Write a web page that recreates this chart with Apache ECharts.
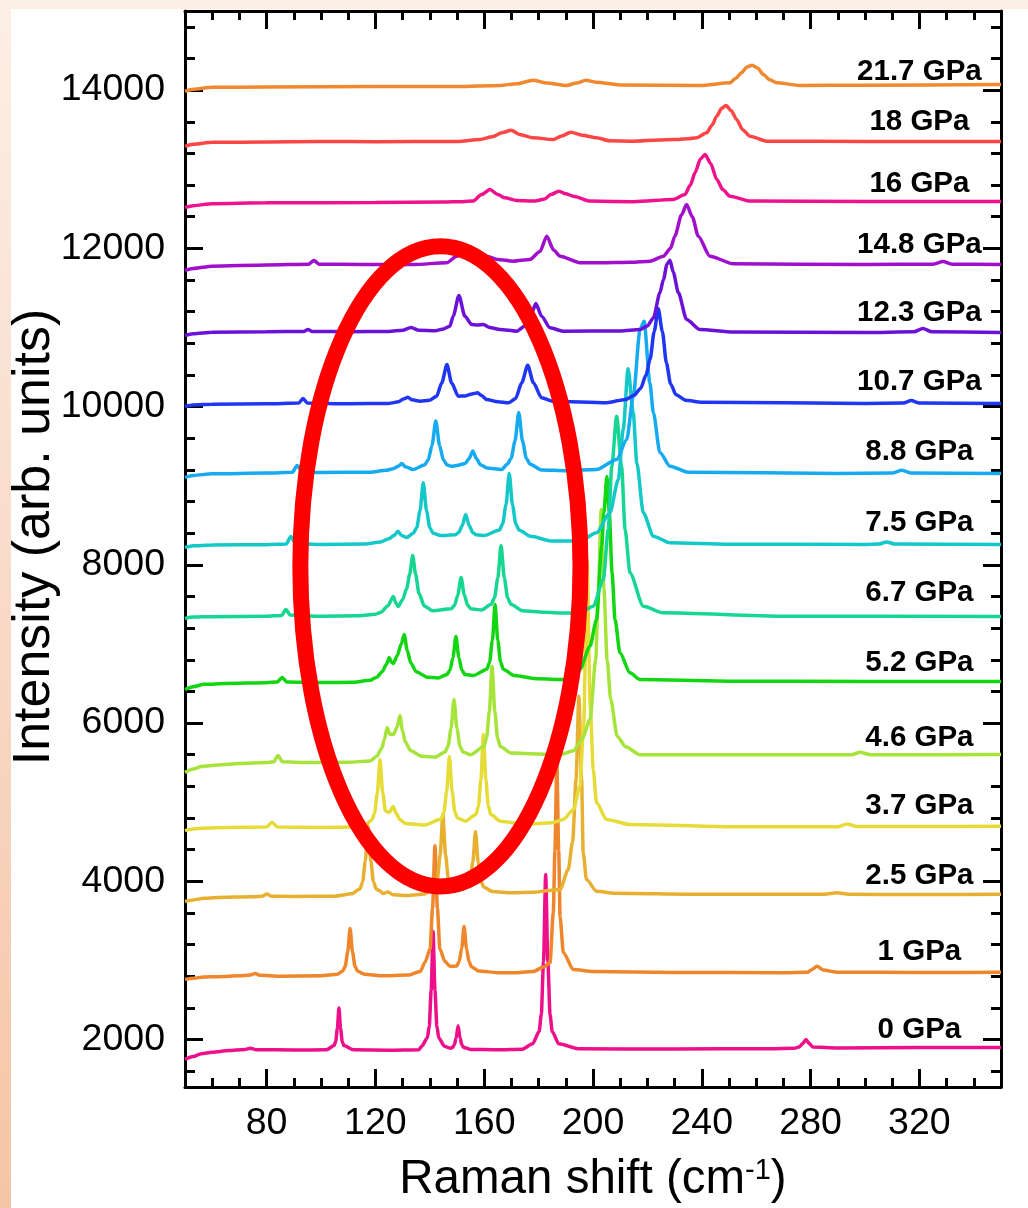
<!DOCTYPE html>
<html><head><meta charset="utf-8">
<script src="https://cdn.jsdelivr.net/npm/echarts@6/dist/echarts.min.js"></script>
<style>
html,body{margin:0;padding:0;width:1028px;height:1208px;overflow:hidden;}
body{background:linear-gradient(180deg,#fcefe6 0%,#f9dccb 45%,#f5c5a5 100%);}
#panel{position:absolute;left:11px;top:9px;right:0;bottom:0;background:#fff;}
#chart{position:absolute;left:0;top:0;width:1028px;height:1208px;}
</style></head><body><div id="panel"></div><div id="chart"></div>
<script>
// ---------- data ----------
const pressures = ["0 GPa","1 GPa","2.5 GPa","3.7 GPa","4.6 GPa","5.2 GPa","6.7 GPa","7.5 GPa","8.8 GPa","10.7 GPa","12.3 GPa","14.8 GPa","16 GPa","18 GPa","21.7 GPa"];
const xMajorTicks = [80,120,160,200,240,280,320];
const xMinorTicks = [60,70,90,100,110,130,140,150,170,180,190,210,220,230,250,260,270,290,300,310,330,340];
const yMajorTicks = [2000,4000,6000,8000,10000,12000,14000];
const yMinorTicks = [1600,2400,2800,3200,3600,4400,4800,5200,5600,6400,6800,7200,7600,8400,8800,9200,9600,10400,10800,11200,11600,12400,12800,13200,13600,14400,14800];

const s0 = [[50,1750],[53,1785],[56,1820],[60,1840],[66,1860],[72,1875],[74,1890],[76,1872],[90,1868],[102,1870],[104.8,1923],[105.4,1976],[106.0,2135],[106.6,2400],[107.2,2135],[107.8,1976],[108.4,1923],[112,1870],[125,1866],[136,1872],[137.0,1915],[139.1,2020],[139.8,2170],[140.5,2618],[141.2,3365],[141.9,2618],[142.6,2170],[143.3,2020],[145.4,1915],[147.5,1890],[148.3,1900],[149.0,1930],[149.7,2022],[150.4,2175],[151.1,2022],[151.8,1930],[152.5,1900],[155,1875],[165,1870],[174,1878],[177.8,1946],[180.2,2101],[181.0,2321],[181.8,2983],[182.6,4086],[183.4,2983],[184.2,2321],[185.0,2101],[187.4,1946],[195,1882],[230,1880],[265,1885],[274,1890],[275.8,1905],[277.1,1950],[278.3,2000],[279.5,1950],[280.8,1905],[290,1893],[320,1898],[350,1900]];
const s1 = [[50,2760],[53,2775],[57,2790],[62,2795],[70,2805],[74,2815],[75.7,2835],[77.5,2812],[85,2800],[100,2805],[106.0,2825],[108.0,2865],[108.9,2925],[109.8,3104],[110.7,3403],[111.6,3104],[112.5,2925],[113.4,2865],[116,2825],[122,2805],[132,2815],[136.5,2860],[138.3,2980],[140.1,3148],[141.0,3655],[141.9,4450],[142.8,3655],[143.7,3148],[145.5,2990],[147.4,2925],[149.9,2930],[150.8,2985],[151.7,3150],[152.6,3428],[153.5,3150],[154.4,2985],[155.3,2920],[158,2865],[165,2845],[172,2845],[178,2860],[182.0,2920],[184.2,2970],[185.4,3600],[186.0,4380],[186.7,5500],[187.4,4380],[187.9,3550],[189.1,3096],[192.8,2885],[200,2860],[230,2848],[270,2845],[279,2850],[280.2,2880],[282.4,2925],[284.6,2880],[290,2850],[320,2848],[350,2850]];
const s2 = [[50,3745],[53,3765],[57,3785],[62,3795],[75,3805],[78.5,3812],[80.1,3840],[81.7,3812],[90,3808],[105,3812],[111.3,3842],[114.3,3904],[115.3,3992],[116.3,4258],[117.3,4700],[118.3,4258],[119.3,3992],[120.3,3904],[121.5,3880],[123.0,3845],[124.6,3865],[126.5,3830],[132,3820],[138,3840],[141.8,3931],[142.8,4033],[143.8,4337],[144.8,4844],[145.8,4337],[146.8,4033],[147.8,3931],[150,3880],[153.8,3928],[154.8,4006],[155.8,4240],[156.8,4629],[157.8,4240],[158.8,4006],[159.8,3928],[163,3870],[170,3855],[178,3860],[184,3885],[187.9,3896],[190.9,4149],[192.5,4500],[193.8,5300],[194.8,6340],[195.8,5300],[196.4,4360],[197.6,4022],[201.3,3875],[208,3850],[240,3835],[285,3835],[289.7,3855],[294,3835],[320,3833],[350,3835]];
const s3 = [[50,4640],[53,4660],[57,4672],[65,4680],[80,4685],[82,4745],[84,4685],[100,4680],[112,4685],[116,4700],[118.7,4775],[119.7,4860],[120.7,5115],[121.7,5539],[122.7,5115],[123.7,4890],[125.1,4870],[126.5,4945],[127.6,4860],[129,4780],[131,4730],[138,4710],[144.2,4788],[145.2,4875],[146.2,5139],[147.2,5577],[148.2,5139],[149.2,4875],[150.2,4800],[153,4760],[157.0,4843],[157.9,4955],[158.8,5293],[159.7,5855],[160.6,5293],[161.5,4955],[162.4,4843],[166,4760],[175,4720],[185,4740],[189.1,4781],[192.8,4907],[195.2,5202],[196.6,6000],[197.8,8068],[199.0,6200],[200.1,5413],[201.3,4992],[205.0,4781],[213.6,4718],[250,4690],[290,4690],[293.4,4725],[297,4692],[320,4692],[350,4695]];
const s4 = [[50,5375],[53,5420],[56,5450],[62,5470],[70,5490],[80,5500],[82.6,5510],[84.2,5590],[85.8,5510],[95,5500],[110,5505],[118,5520],[120.5,5580],[122.3,5680],[123.3,5790],[124.3,5944],[125.3,5860],[126.6,5855],[128.0,5950],[129.0,6095],[130.0,5900],[131,5760],[133,5650],[137,5580],[142,5570],[145.6,5634],[146.7,5708],[147.8,5929],[148.9,6298],[150.0,5929],[151.1,5708],[152.2,5634],[155,5600],[159.9,5703],[160.9,5815],[161.9,6153],[162.9,6715],[163.9,6153],[164.9,5815],[165.9,5703],[170,5620],[180,5610],[188,5600],[192.8,5650],[196,5800],[198.9,6045],[201.0,6800],[202.0,7700],[203.0,8699],[204.0,7700],[205.2,6800],[206.5,6300],[208.9,5834],[212,5700],[217.3,5600],[250,5600],[295,5600],[298.2,5630],[302,5600],[350,5602]];
const s5 = [[50,6424],[53,6460],[57,6490],[65,6500],[80,6510],[84,6520],[85.7,6576],[87.4,6520],[100,6513],[112,6515],[118,6540],[120.5,6580],[122.5,6650],[124.0,6740],[125.1,6829],[125.9,6770],[126.6,6753],[128.0,6850],[129.5,7000],[130.6,7119],[131.7,6920],[133,6760],[135,6650],[139,6580],[143,6570],[146.3,6613],[147.4,6667],[148.5,6827],[149.6,7094],[150.7,6827],[151.8,6667],[152.9,6613],[156,6600],[161.0,6681],[162.0,6772],[163.0,7044],[164.0,7498],[165.0,7044],[166.0,6772],[167.0,6681],[171,6600],[180,6560],[189.1,6550],[195.2,6677],[198.9,6972],[201.3,7309],[203.2,8236],[204.0,8657],[205.1,9116],[206.0,8657],[207.0,7900],[208.1,7309],[209.9,6888],[213.6,6635],[217.3,6550],[250,6530],[300,6525],[350,6525]];
const s6 = [[50,7322],[53,7340],[60,7345],[80,7350],[85.5,7360],[87.1,7435],[88.7,7365],[100,7350],[114,7355],[120,7375],[122,7400],[124.5,7480],[126.6,7600],[127.6,7510],[128.4,7473],[130,7560],[131.5,7700],[132.6,7880],[133.7,8118],[134.8,7880],[136,7640],[138,7480],[141,7420],[147.9,7444],[149.1,7488],[150.3,7620],[151.5,7840],[152.7,7620],[153.9,7488],[155.1,7444],[159,7430],[162.6,7502],[163.8,7585],[165.0,7832],[166.2,8244],[167.4,7832],[168.6,7585],[169.8,7502],[174,7420],[182,7400],[190,7390],[195.2,7393],[200.1,7477],[203.8,7814],[205.6,8446],[206.9,9247],[208.7,9879],[210.5,9247],[211.8,8446],[213.6,7898],[218.5,7477],[225.9,7393],[270,7350],[350,7347]];
const s7 = [[50,8219],[53,8240],[60,8250],[80,8255],[87.2,8262],[88.9,8358],[90.6,8270],[100,8257],[116,8262],[122,8290],[125,8330],[126.8,8370],[128.3,8424],[129.6,8370],[131.5,8345],[133.9,8400],[135.2,8470],[136.4,8685],[137.6,9037],[138.8,8685],[140.0,8470],[141.2,8400],[144,8370],[149.3,8379],[150.6,8407],[151.9,8493],[153.2,8636],[154.5,8493],[155.8,8407],[157.1,8379],[160,8370],[165.6,8440],[166.8,8520],[168.0,8757],[169.2,9154],[170.4,8757],[171.6,8520],[172.8,8440],[177,8360],[185,8300],[195.2,8300],[201.3,8404],[206.2,8657],[209.3,9078],[211.1,9710],[212.9,10478],[214.8,9921],[216.1,9289],[218.5,8657],[222.2,8362],[228.3,8278],[250,8260],[300,8257],[305,8262],[308,8290],[311,8262],[350,8257]];
const s8 = [[50,9104],[53,9130],[60,9150],[80,9160],[89.5,9170],[91.2,9255],[93,9175],[100,9167],[118,9170],[124,9195],[126.5,9215],[128.4,9245],[129.7,9281],[131.0,9240],[133.9,9205],[138.0,9262],[139.4,9324],[140.8,9509],[142.2,9818],[143.6,9509],[145.0,9324],[146.4,9262],[148,9245],[149.9,9255],[153.0,9280],[154.4,9340],[155.8,9440],[157.2,9340],[158.6,9265],[161,9225],[166.4,9205],[168.5,9272],[169.9,9345],[171.3,9562],[172.7,9925],[174.1,9562],[175.5,9345],[176.9,9272],[181,9200],[190,9190],[201.3,9205],[208.7,9331],[212.4,9584],[214.8,10132],[217.3,10974],[218.8,11080],[220.9,10300],[222.2,9921],[224.6,9419],[228.3,9247],[235,9170],[290,9155],[310,9160],[313.6,9195],[317,9160],[350,9154]];
const s9 = [[50,10001],[53,10020],[60,10030],[80,10036],[91.8,10045],[93.4,10102],[95,10045],[110,10035],[125,10040],[128.5,10060],[130.3,10095],[131.9,10118],[133.5,10085],[136.4,10068],[140,10080],[142.5,10131],[144.4,10300],[146.3,10532],[148.0,10300],[150.5,10131],[153,10135],[155.5,10160],[157.6,10174],[159,10140],[160.9,10090],[165,10060],[168.9,10047],[171.5,10100],[173.8,10300],[176.0,10523],[178.1,10300],[181.1,10111],[185.4,10068],[205,10050],[212,10090],[215,10140],[217.5,10230],[219.5,10400],[221.0,10600],[222.5,10950],[224.0,11236],[225.5,10950],[227.0,10550],[228.5,10290],[230.5,10150],[234,10080],[240,10055],[300,10040],[314,10045],[317,10077],[320,10045],[350,10039]];
const s10 = [[50,10898],[53,10920],[60,10940],[80,10945],[93.6,10950],[95.2,10974],[96.8,10950],[110,10945],[125,10950],[130,10965],[133.1,11000],[136,10965],[142,10960],[145,10980],[147.4,11017],[148.6,11143],[150.7,11404],[152.9,11143],[155.4,11038],[157.5,11030],[159.7,11038],[162,11000],[165.8,10974],[171.9,10953],[175,11020],[177.5,11186],[179.0,11303],[181.1,11143],[184.2,10996],[189.1,10953],[210,10955],[217.3,10974],[220,11020],[222.2,11120],[224.6,11438],[225.9,11606],[227.2,11800],[228.3,11851],[229.5,11700],[231.4,11438],[234.4,11101],[239.3,10974],[251.6,10943],[300,10937],[318,10945],[321.3,10987],[324.5,10945],[350,10937]];
const s11 = [[50,11720],[53,11745],[60,11775],[80,11790],[95.5,11800],[97.4,11847],[99.3,11800],[115,11795],[134,11796],[146.2,11818],[149.9,11901],[154.8,12006],[160.9,11901],[165,11860],[170.7,11838],[176.8,11859],[180.5,11960],[183.0,12154],[185.5,11980],[187.9,11901],[195.2,11818],[202.6,11818],[214,11825],[221.0,11838],[225.9,11901],[228.5,12000],[230.1,12154],[232.5,12420],[234.4,12554],[236.5,12400],[238.7,12154],[243,11901],[251.6,11805],[300,11796],[325,11800],[328.7,11834],[332,11800],[350,11796]];
const s12 = [[50,12517],[53,12540],[60,12565],[80,12575],[120,12580],[145,12585],[152,12590],[156.0,12600],[159,12680],[162.1,12744],[165,12680],[167.6,12639],[172,12605],[178.1,12597],[182,12620],[184.5,12680],[187.5,12723],[190,12690],[192.8,12659],[198.9,12597],[215,12590],[229.5,12618],[233.8,12681],[235.8,12800],[237.5,12955],[239.5,13130],[241.2,13186],[243.3,13070],[245.5,12870],[247.8,12740],[250.4,12659],[257.7,12597],[300,12593],[350,12593]];
const s13 = [[50,13288],[53,13315],[60,13340],[80,13345],[100,13350],[120,13348],[150,13352],[158.5,13376],[163,13410],[166.5,13460],[169.9,13494],[173,13440],[178.0,13398],[185.4,13376],[188.5,13420],[191.8,13468],[196,13430],[201.3,13397],[206,13360],[215,13355],[229.5,13376],[235,13385],[238.1,13398],[241.8,13461],[243.8,13560],[245.5,13671],[247.3,13770],[248.9,13806],[250.8,13740],[252.8,13629],[255,13500],[257.7,13418],[263.9,13355],[300,13351],[350,13351]];
const s14 = [[50,13983],[53,14010],[60,14035],[80,14040],[120,14045],[150,14046],[165.8,14059],[172,14080],[178.0,14126],[183,14090],[190.3,14059],[194,14090],[197.4,14126],[201,14100],[210,14065],[239.3,14058],[250.4,14093],[252.5,14150],[254.6,14219],[256.5,14290],[258.5,14315],[260.5,14280],[262.6,14198],[265,14130],[267.5,14093],[276.1,14058],[300,14062],[350,14071]];
const spectra = [s0,s1,s2,s3,s4,s5,s6,s7,s8,s9,s10,s11,s12,s13,s14];

// ---------- styling / layout ----------
const colors = ["#ee108a","#f0862c","#e8b030","#e6dc38","#a6e43c","#12d612","#16d692","#14c8c8","#16aaf0","#2036f2","#6c12d8","#a010cc","#f0128c","#ff4646","#f08830"];
const labelLift = [18,20,18,20,17,19,24,22,22,22,20,20,18,20,13]; // px above line end
const labelX = 320;
const ellipseCenter = [143.9, 7980];
const ellipseRadii = [51.5, 4045];
const FONT = "'Liberation Sans', Arial, sans-serif";

const chart = echarts.init(document.getElementById('chart'), null, {renderer:'canvas'});
const axisLineStyle = {color:'#000', width:3};
function xAxisDef(pos, ticks, len, showLine, showLabel){
  return {type:'value', min:50, max:350, position:pos, gridIndex:0,
    axisLine:{show:showLine, onZero:false, lineStyle:axisLineStyle},
    axisTick:{show:true, inside:true, length:len, customValues:ticks, lineStyle:{color:'#000', width:3}},
    axisLabel:{show:showLabel, customValues:xMajorTicks, formatter:v=>String(v), fontSize:37.5, color:'#000', fontFamily:FONT, margin:18},
    splitLine:{show:false}};
}
function yAxisDef(pos, ticks, len, showLine, showLabel){
  return {type:'value', min:1400, max:15000, position:pos, gridIndex:0,
    axisLine:{show:showLine, onZero:false, lineStyle:axisLineStyle},
    axisTick:{show:true, inside:true, length:len, customValues:ticks, lineStyle:{color:'#000', width:3}},
    axisLabel:{show:showLabel, customValues:yMajorTicks, formatter:v=>String(v), fontSize:37.5, color:'#000', fontFamily:FONT, margin:20},
    splitLine:{show:false}};
}
const series = spectra.map((d,i)=>({
  type:'line', name:pressures[i], data:d, xAxisIndex:0, yAxisIndex:0,
  symbol:'none', showSymbol:false, smooth:0.25, smoothMonotone:'x',
  lineStyle:{color:colors[i], width:3.5}, itemStyle:{color:colors[i]},
  silent:true, animation:false, z:2+i
}));
chart.setOption({
  animation:false,
  backgroundColor:'transparent',
  grid:{left:185, right:27, top:11, bottom:121, containLabel:false},
  xAxis:[xAxisDef('bottom', xMajorTicks, 18, true, true), xAxisDef('bottom', xMinorTicks, 9, false, false),
         xAxisDef('top', xMajorTicks, 18, true, false), xAxisDef('top', xMinorTicks, 9, false, false)],
  yAxis:[yAxisDef('left', yMajorTicks, 18, true, true), yAxisDef('left', yMinorTicks, 10, false, false),
         yAxisDef('right', yMajorTicks, 18, true, false), yAxisDef('right', yMinorTicks, 10, false, false)],
  series: series
});
const toPx = v => chart.convertToPixel({xAxisIndex:0, yAxisIndex:0}, v);
const c = toPx(ellipseCenter);
const e = toPx([ellipseCenter[0]+ellipseRadii[0], ellipseCenter[1]+ellipseRadii[1]]);
const graphics = [
  {type:'ellipse', z:100, silent:true, shape:{cx:c[0], cy:c[1], rx:Math.abs(e[0]-c[0]), ry:Math.abs(c[1]-e[1])},
   style:{fill:null, stroke:'#ff0000', lineWidth:16}},
  {type:'text', z:100, silent:true, x:593, y:1180, style:{
    text:'{a|Raman shift (cm}{s|-1}{a|)}', align:'center', verticalAlign:'middle',
    rich:{a:{fontSize:47.5, fontFamily:FONT, fill:'#000'}, s:{fontSize:29, fontFamily:FONT, fill:'#000', verticalAlign:'top', padding:[0,0,14,0]}}}},
  {type:'text', z:100, silent:true, x:35, y:537, rotation:Math.PI/2, style:{
    text:'Intensity (arb. units)', align:'center', verticalAlign:'middle', fontSize:52, fontFamily:FONT, fill:'#000'}}
];
pressures.forEach((p,i)=>{
  const d = spectra[i];
  const pt = toPx([labelX, d[d.length-1][1]]);
  graphics.push({type:'text', z:90, silent:true, x:pt[0], y:pt[1]-labelLift[i], style:{
    text:p, align:'center', verticalAlign:'middle', fontSize:29.5, fontWeight:'bold', fontFamily:FONT, fill:'#000'}});
});
chart.setOption({graphic:graphics});
</script></body></html>
